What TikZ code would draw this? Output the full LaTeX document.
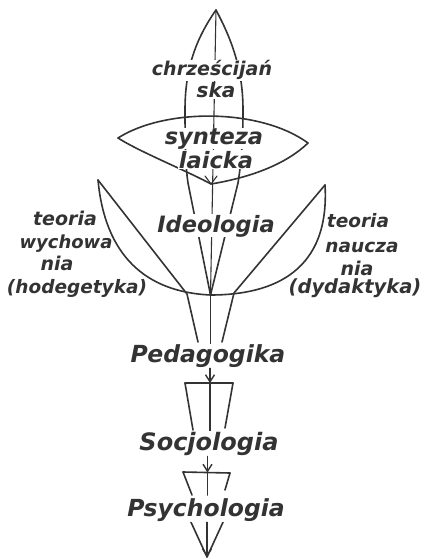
\documentclass[tikz,border=0pt]{standalone}
\usepackage{fontspec}
\setmainfont{DejaVu Sans}
\usetikzlibrary{arrows.meta}
\begin{document}
\begin{tikzpicture}[x=1pt,y=-1pt,line width=1.6pt,color=black!80,line join=round,line cap=round,
  lbl/.style={fill=white,inner sep=0.5pt,anchor=base,font=\bfseries\itshape\fontsize{#1}{#1}\selectfont},
  side/.style={inner sep=0pt,anchor=base,font=\bfseries\itshape\fontsize{#1}{#1}\selectfont},
  vhead/.style={-{Straight Barb[length=7pt,width=9pt,line width=1.4pt]}},
  thin/.style={line width=1.1pt}]
\useasboundingbox (0,0) rectangle (428,559);
% spear
\coordinate (tip) at (216,10);
\coordinate (hub) at (210.5,295);
\draw (tip) .. controls (195,40) and (185,70) .. (185,110) .. controls (185,150) and (186,170) .. (188,183) -- (hub);
\draw (tip) .. controls (232,40) and (243,70) .. (243,110) .. controls (243,150) and (240,170) .. (238,183) -- (hub);
\draw[thin] (tip) -- (hub);
% lens
\coordinate (lensL) at (118,138);
\coordinate (lensR) at (308,143);
\coordinate (lensB) at (211,184);
\draw (lensL) .. controls (165,108) and (260,108) .. (lensR);
\draw (lensL) .. controls (140,152) and (185,170) .. (lensB) .. controls (235,180) and (280,170) .. (lensR);
\draw[thin] (205,176) -- (lensB) -- (217,176);
% leaves
\coordinate (leafL) at (98,180);
\coordinate (leafR) at (325,185);
\draw (leafL) .. controls (105,255) and (145,292) .. (hub);
\draw (leafR) .. controls (330,270) and (275,295) .. (hub);
\draw (leafL) -- (187,294) -- (198,342);
\draw (leafR) -- (234,293) -- (222,342);
\draw (hub) -- (210.5,345);
% trapezoid 1
\coordinate (t1) at (210,383);
\draw (185,383) -- (233,383);
\draw (185,383) -- (193,430);
\draw (233,383) -- (225,428);
\draw (t1) -- (210,432);
% trapezoid 2
\coordinate (t2) at (207.5,472.5);
\draw (183,472) -- (230,473);
\draw (183,472) -- (192,495);
\draw (230,473) -- (225,490);
\draw (t2) -- (207.5,495);
% bottom
\coordinate (bot) at (207,557);
\draw (190,520) -- (bot);
\draw (224,520) -- (bot);
% labels
\node[lbl=19] (chr) at (212,76) {chrześcijań};
\node[lbl=20] (ska) at (216,98) {ska};
\node[lbl=22.5] (syn) at (214,144) {synteza};
\node[lbl=22.5] (lai) at (216,168) {laicka};
\node[lbl=22.5] (ideo) at (216,232) {Ideologia};
\node[side=19] (tl1) at (65,225) {teoria};
\node[side=18] (tl2) at (66,248) {wychowa};
\node[side=19] (tl3) at (57,270) {nia};
\node[side=18.5] (tl4) at (77,293) {(hodegetyka)};
\node[side=18.5] (tr1) at (358,227) {teoria};
\node[side=18.5] (tr2) at (362,252) {naucza};
\node[side=19] (tr3) at (357,275) {nia};
\node[side=19.5] (tr4) at (355,293) {(dydaktyka)};
\node[lbl=23.5] (ped) at (208,362) {Pedagogika};
\node[lbl=24] (soc) at (209,450) {Socjologia};
\node[lbl=23.5] (psy) at (206,516) {Psychologia};
% arrows between labels
\draw[vhead] (ped.south -| t1) -- (t1);
\draw[vhead] (soc.south -| t2) -- (t2);
\draw[vhead] (psy.south -| bot) -- (bot);
\end{tikzpicture}
\end{document}
